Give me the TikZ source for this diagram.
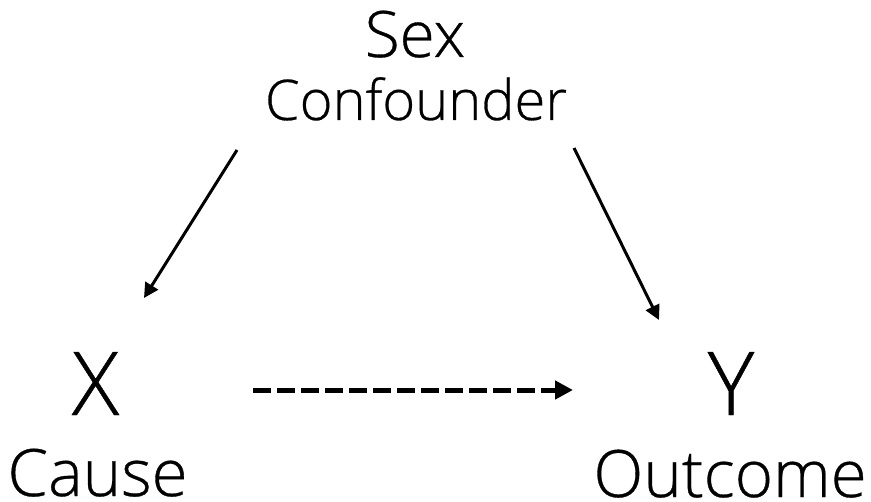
\documentclass[tikz,border=0pt]{standalone}
\usepackage{fontspec}
\setmainfont{Open Sans}[UprightFont=* Light,FakeBold=0.5]
\usetikzlibrary{arrows.meta}
\begin{document}
\begin{tikzpicture}[x=0.75pt,y=-0.75pt,
  lbl/.style={inner sep=0pt,anchor=base},
  var/.style={lbl,font=\fontsize{66}{66}\selectfont},
  role/.style={lbl,font=\fontsize{49}{49}\selectfont},
  edge/.style={line width=2.25pt,-{Triangle[length=11pt,width=11pt]}},
  causal/.style={line width=3.75pt,dash pattern=on 13.5pt off 4.5pt,-{Triangle[length=13.5pt,width=13.5pt]}}]
  \useasboundingbox (0,0) rectangle (871,502);
  % variables and their roles
  \node[lbl,font=\fontsize{48}{48}\selectfont] (sex) at (415,57) {Sex};
  \node[lbl,font=\fontsize{42}{42}\selectfont] (conf) at (416,120) {Confounder};
  \node[var] (x) at (95.5,415) {X};
  \node[role] (cause) at (97.5,496) {Cause};
  \node[var] (y) at (731,415) {Y};
  \node[role] (outcome) at (730,497) {Outcome};
  % arrow end points
  \coordinate (cl) at (237,150);
  \coordinate (xt) at (144,298);
  \coordinate (cr) at (574,148);
  \coordinate (yt) at (659,320);
  \coordinate (xr) at (253,390);
  \coordinate (yl) at (573,390);
  \draw[edge] (cl) -- (xt);
  \draw[edge] (cr) -- (yt);
  \draw[causal] (xr) -- (yl);
\end{tikzpicture}
\end{document}
